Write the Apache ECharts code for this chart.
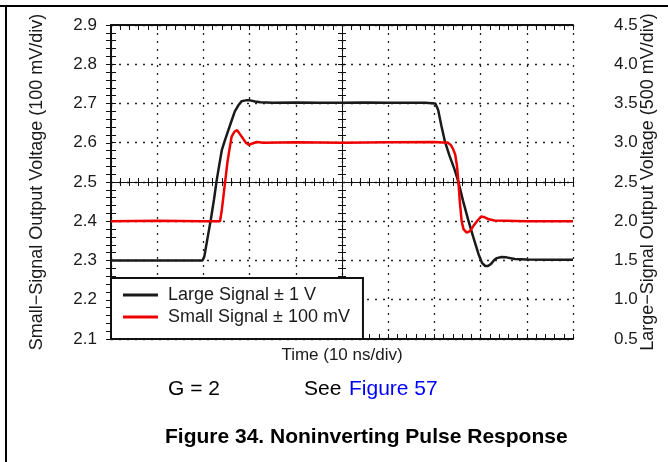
<!DOCTYPE html>
<html>
<head>
<meta charset="utf-8">
<script src="https://cdn.jsdelivr.net/npm/echarts@6/dist/echarts.min.js"></script>
<style>
html,body{margin:0;padding:0;background:#fff;}
#chart{width:668px;height:462px;}
</style>
</head>
<body>
<div id="chart"></div>
<script>
// ---- Data (time in ns, 10 ns/div) ----
var largeT = [0, 10, 19.8, 20.2, 21.0, 21.6, 22.3, 22.9, 23.5, 24.0, 24.6, 25.4, 26.1, 26.8, 27.6, 28.3, 29.2, 30.1, 31.2, 32.3, 35, 40, 45, 50, 55, 60, 65, 68, 70.2, 70.8, 71.5, 72.3, 73.3, 74.3, 75.2, 76.2, 77.3, 78.4, 79.5, 80.3, 81.0, 81.6, 82.3, 83.0, 83.5, 84.5, 85.6, 87.4, 90, 95, 100];
var largeV = [1.50, 1.50, 1.50, 1.55, 1.82, 2.02, 2.28, 2.53, 2.74, 2.91, 3.02, 3.16, 3.28, 3.40, 3.48, 3.53, 3.54, 3.54, 3.525, 3.515, 3.51, 3.512, 3.508, 3.51, 3.512, 3.51, 3.508, 3.51, 3.50, 3.42, 3.22, 3.01, 2.83, 2.67, 2.50, 2.26, 2.02, 1.80, 1.59, 1.47, 1.43, 1.43, 1.46, 1.51, 1.53, 1.545, 1.54, 1.52, 1.512, 1.51, 1.51];

var smallT = [0, 10, 20, 23.6, 24.0, 24.4, 24.8, 25.2, 25.6, 26.1, 26.7, 27.3, 27.9, 28.6, 29.2, 29.8, 30.6, 31.5, 33, 40, 50, 60, 70, 72.9, 73.5, 74.0, 74.5, 74.9, 75.2, 75.5, 75.9, 76.3, 77.0, 77.7, 78.4, 79.2, 80.1, 80.9, 81.8, 83, 90, 100];
var smallV = [2.40, 2.401, 2.40, 2.40, 2.43, 2.47, 2.51, 2.55, 2.58, 2.615, 2.628, 2.632, 2.622, 2.61, 2.60, 2.595, 2.598, 2.602, 2.60, 2.601, 2.60, 2.601, 2.602, 2.60, 2.595, 2.585, 2.57, 2.54, 2.50, 2.45, 2.40, 2.38, 2.371, 2.375, 2.387, 2.40, 2.412, 2.41, 2.405, 2.402, 2.40, 2.40];

var seriesNames = ['Large Signal \u00b1 1 V', 'Small Signal \u00b1 100 mV'];
var leftAxisName = 'Small\u2212Signal Output Voltage (100 mV/div)';
var rightAxisName = 'Large\u2212Signal Output Voltage (500 mV/div)';
var xAxisName = 'Time (10 ns/div)';

function pairs(t, v) { return t.map(function (x, i) { return [x, v[i]]; }); }

var FONT = 'Liberation Sans, Arial, Helvetica, sans-serif';
var TXT = '#1a1a1a';
var dotted = { color: '#222', width: 1.3, type: [2, 6] };

function frameX(pos, extra) {
  return Object.assign({
    type: 'value', position: pos, min: 0, max: 100, interval: 10,
    axisLine: { show: true, lineStyle: { color: '#111', width: 2 } },
    axisTick: { show: true, inside: true, length: 5, lineStyle: { color: '#111', width: 1 } },
    minorTick: { show: true, splitNumber: 5, length: 5, lineStyle: { color: '#111', width: 1 } },
    axisLabel: { show: false },
    splitLine: { show: false }
  }, extra || {});
}
function centerX(inside) {
  return frameX('bottom', {
    offset: -157,
    axisLine: { show: true, lineStyle: { color: '#111', width: 1 } },
    axisTick: { show: true, inside: inside, length: 4, lineStyle: { color: '#111', width: 1 } },
    minorTick: { show: true, splitNumber: 5, length: 4, lineStyle: { color: '#111', width: 1 } }
  });
}
function centerY(inside) {
  return {
    type: 'value', position: 'left', offset: -231, min: 2.1, max: 2.9, interval: 0.1,
    axisLine: { show: true, lineStyle: { color: '#111', width: 1 } },
    axisTick: { show: true, inside: inside, length: 4, lineStyle: { color: '#111', width: 1 } },
    minorTick: { show: true, splitNumber: 5, length: 4, lineStyle: { color: '#111', width: 1 } },
    axisLabel: { show: false },
    splitLine: { show: false }
  };
}

var chart = echarts.init(document.getElementById('chart'), null, { renderer: 'canvas' });
chart.setOption({
  animation: false,
  backgroundColor: '#fff',
  textStyle: { fontFamily: FONT },
  grid: { left: 111, right: 95, top: 25, bottom: 123, containLabel: false, outerBoundsMode: 'none' },
  xAxis: [
    frameX('bottom', {
      name: xAxisName, nameLocation: 'middle', nameGap: 8, nameMoveOverlap: false,
      nameTextStyle: { fontSize: 17, color: TXT, fontFamily: FONT },
      splitLine: { show: true, lineStyle: dotted }
    }),
    frameX('top'),
    centerX(true),
    centerX(false)
  ],
  yAxis: [
    {
      type: 'value', position: 'left', min: 2.1, max: 2.9, interval: 0.1,
      name: leftAxisName, nameLocation: 'middle', nameGap: 65, nameRotate: 90, nameMoveOverlap: false,
      nameTextStyle: { fontSize: 18, color: TXT, fontFamily: FONT },
      axisLine: { show: true, lineStyle: { color: '#111', width: 2 } },
      axisTick: { show: true, inside: true, length: 5, lineStyle: { color: '#111', width: 1 } },
      minorTick: { show: true, splitNumber: 5, length: 5, lineStyle: { color: '#111', width: 1 } },
      axisLabel: { show: true, margin: 14, fontSize: 17, color: TXT, fontFamily: FONT,
        formatter: function (v) { return v.toFixed(1); } },
      splitLine: { show: true, lineStyle: dotted }
    },
    {
      type: 'value', position: 'right', min: 0.5, max: 4.5, interval: 0.5,
      name: rightAxisName, nameLocation: 'middle', nameGap: 66, nameRotate: 90, nameMoveOverlap: false,
      nameTextStyle: { fontSize: 18, color: TXT, fontFamily: FONT },
      axisLine: { show: true, lineStyle: { color: '#111', width: 2 } },
      axisTick: { show: true, inside: true, length: 5, lineStyle: { color: '#111', width: 1 } },
      minorTick: { show: true, splitNumber: 5, length: 5, lineStyle: { color: '#111', width: 1 } },
      axisLabel: { show: true, margin: 41, fontSize: 17, color: TXT, fontFamily: FONT,
        formatter: function (v) { return v.toFixed(1); } },
      splitLine: { show: false }
    },
    centerY(true),
    centerY(false)
  ],
  legend: {
    orient: 'vertical', left: 111, top: 278,
    padding: [8, 13, 13, 12], itemGap: 4,
    backgroundColor: '#fff', borderColor: '#111', borderWidth: 2, borderRadius: 0,
    icon: 'rect', itemWidth: 35, itemHeight: 3,
    textStyle: { fontSize: 18, color: TXT, fontFamily: FONT, padding: [0, 0, 0, 5] },
    data: seriesNames
  },
  series: [
    {
      name: seriesNames[0], type: 'line', xAxisIndex: 0, yAxisIndex: 1,
      data: pairs(largeT, largeV), showSymbol: false, symbol: 'none',
      lineStyle: { color: '#1a1a1a', width: 2.5 }, itemStyle: { color: '#1a1a1a' }, z: 3
    },
    {
      name: seriesNames[1], type: 'line', xAxisIndex: 0, yAxisIndex: 0,
      data: pairs(smallT, smallV), showSymbol: false, symbol: 'none',
      lineStyle: { color: '#ee0000', width: 2.5 }, itemStyle: { color: '#ee0000' }, z: 4
    }
  ],
  graphic: [
    { type: 'line', shape: { x1: 0, y1: 6, x2: 668, y2: 6 }, style: { stroke: '#000', lineWidth: 2 } },
    { type: 'line', shape: { x1: 6, y1: 6, x2: 6, y2: 462 }, style: { stroke: '#000', lineWidth: 2 } },
    { type: 'text', left: 168, top: 379, style: { text: 'G = 2', font: '21px ' + FONT, fill: '#000' } },
    { type: 'text', left: 304, top: 379, style: { text: 'See', font: '21px ' + FONT, fill: '#000' } },
    { type: 'text', left: 349, top: 379, style: { text: 'Figure 57', font: '21px ' + FONT, fill: '#0000ff' } },
    { type: 'text', left: 165, top: 427, style: { text: 'Figure 34. Noninverting Pulse Response', font: 'bold 21px ' + FONT, fill: '#000' } }
  ]
});
</script>
</body>
</html>
